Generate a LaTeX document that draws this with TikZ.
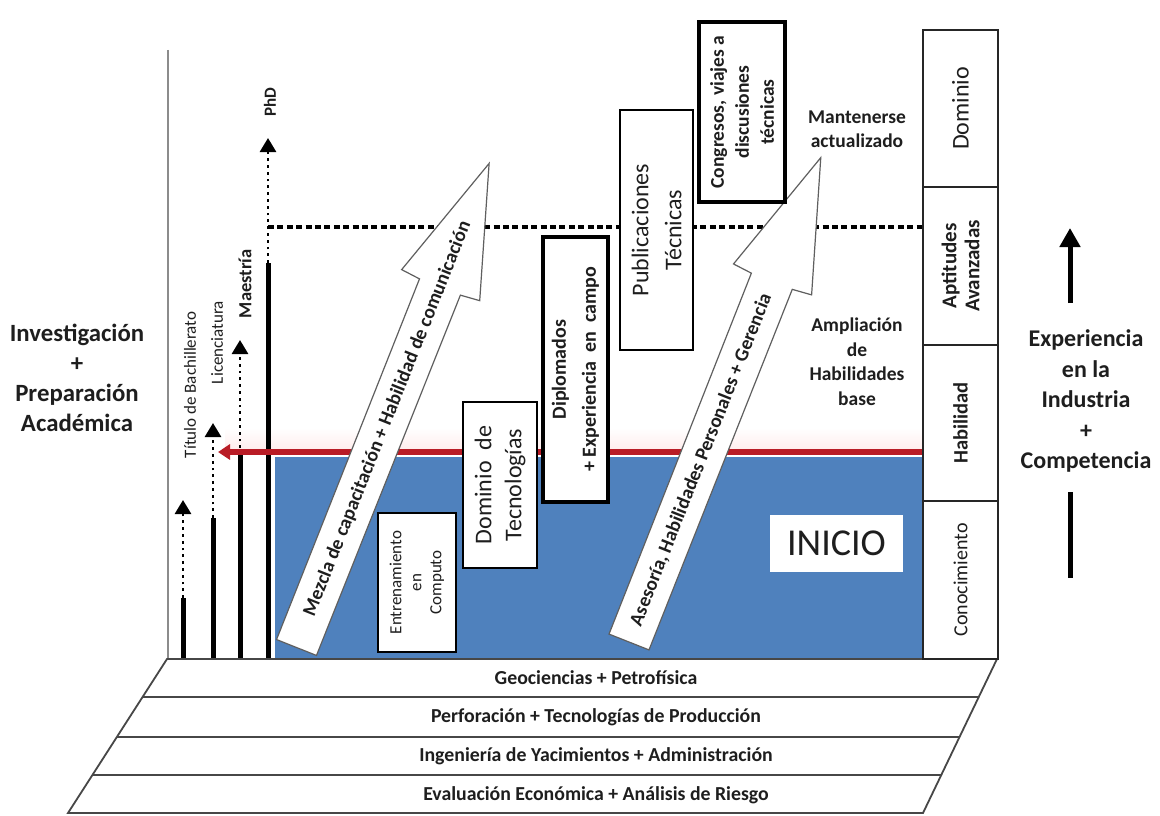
\documentclass[tikz,border=0pt]{standalone}
\usepackage{fontspec}
\setmainfont{Carlito}
\usetikzlibrary{arrows.meta}
\definecolor{inicioblue}{RGB}{79,129,189}
\definecolor{redline}{RGB}{185,28,38}
\definecolor{ink}{RGB}{30,30,30}
\definecolor{outline}{RGB}{95,95,95}
\newcommand{\growtharrow}{%
  \path[arrowshape] (0,-21.5) -- (388,-22) -- (390,-42) -- (521,0)
    -- (390,42) -- (388,22) -- (0,21.5) -- cycle;}
\begin{document}
\begin{tikzpicture}[x=1pt,y=-1pt,
  every node/.style={text=ink, inner sep=0pt, outer sep=0pt},
  solidbar/.style={line width=5pt, black},
  dotbar/.style={line width=2.8pt, black, dash pattern=on 2.8pt off 4pt,
                 -{Triangle[width=16pt,length=14pt]}},
  levelline/.style={line width=4pt, black, dash pattern=on 6pt off 3.4pt},
  baseline/.style={draw=black!72, line width=1.8pt},
  rowtext/.style={font=\fontsize{19.8}{22}\selectfont\bfseries},
  sidetext/.style={font=\fontsize{24}{30.5}\selectfont\bfseries, align=center},
  midtext/.style={font=\fontsize{19.5}{24.5}\selectfont\bfseries, align=center},
  ledger/.style={draw=black!85, line width=1.5pt, fill=white, rotate=90,
                 minimum width=#1, minimum height=75pt, align=center},
  tbox/.style={draw=black, fill=white, rotate=90, align=center},
  arrowshape/.style={draw=outline, line width=1.2pt, fill=white, line join=miter},
  arrowtext/.style={font=\fontsize{19.5}{21}\selectfont\bfseries},
  barlabel/.style={rotate=90, anchor=west, font=\fontsize{17}{20}\selectfont}
]
\useasboundingbox (0,0) rectangle (1160,816);
\fill[white] (0,0) rectangle (1160,816);

% starting level: blue field with a soft glow above the red line
\shade[top color=white, bottom color=red!7] (225,428) rectangle (923,449);
\fill[inicioblue] (275,457) rectangle (923,659);

% left wall
\coordinate (wallT) at (168,50);
\coordinate (wallB) at (168,659);
\draw[line width=2pt, black!45] (wallT) -- (wallB);

% academic ladder: solid part, dotted part, arrow tip
\coordinate (b1base) at (183,659); \coordinate (b1mid) at (183,598); \coordinate (b1tip) at (183,500);
\coordinate (b2base) at (213,659); \coordinate (b2mid) at (213,518); \coordinate (b2tip) at (213,423);
\coordinate (b3base) at (240,659); \coordinate (b3mid) at (240,455); \coordinate (b3tip) at (240,340);
\coordinate (b4base) at (268,659); \coordinate (b4mid) at (268,263); \coordinate (b4tip) at (268,138);
\foreach \i in {1,2,3,4}{
  \draw[solidbar] (b\i base) -- (b\i mid);
  \draw[dotbar] (b\i mid) -- (b\i tip);
}
\node[barlabel] (lbach) at (190,458) {Título de Bachillerato};
\node[barlabel] (llic) at (217,384) {Licenciatura};
\node[barlabel, font=\fontsize{18.5}{20}\selectfont\bfseries] (lmae) at (245,318) {Maestría};
\node[barlabel, font=\fontsize{17}{20}\selectfont\bfseries] (lphd) at (270,117) {PhD};

% advanced level line
\coordinate (lvlL) at (268,227);
\coordinate (lvlR) at (923,227);
\draw[levelline] (lvlL) -- (lvlR);

% red arrow at the top of the starting level
\coordinate (redR) at (923,452);
\coordinate (redL) at (218,452);
\draw[redline, line width=6pt, -{Triangle[width=15pt,length=12pt]}] (redR) -- (redL);

% foundation layers
\path[baseline, fill=white] (167,659) -- (997,659) -- (923,813) -- (68,813) -- cycle;
\draw[baseline] (142.6,697) -- (978.7,697);
\draw[baseline] (116.9,737) -- (959.5,737);
\draw[baseline] (92.4,775) -- (941.3,775);
\node[rowtext] (geo) at (596,678) {Geociencias + Petrofísica};
\node[rowtext] (perf) at (596,717) {Perforación + Tecnologías de Producción};
\node[rowtext] (ing) at (596,756) {Ingeniería de Yacimientos + Administración};
\node[rowtext] (eva) at (596,795) {Evaluación Económica + Análisis de Riesgo};

% competence scale
\node[ledger=157, font=\fontsize{24}{26}\selectfont] (ldom) at (960.5,108.5) {Dominio};
\node[ledger=158, font=\fontsize{21}{23}\selectfont\bfseries] (lapt) at (960.5,266) {Aptitudes\\Avanzadas};
\node[ledger=156, font=\fontsize{20.5}{22}\selectfont\bfseries] (lhab) at (960.5,423) {Habilidad};
\node[ledger=158, font=\fontsize{20}{22}\selectfont] (lcon) at (960.5,580) {Conocimiento};
\draw[line width=2.6pt, black!85] (998,50) -- (998,659);

% broad growth arrows
\begin{scope}[shift={(296.5,647.5)}, rotate=68.3]
  \growtharrow
  \node[arrowtext, rotate=68.3] (amix) at (246,0) {Mezcla de capacitación + Habilidad de comunicación};
\end{scope}
\begin{scope}[shift={(629,642)}, rotate=68.4]
  \growtharrow
  \node[arrowtext, rotate=68.4] (aase) at (196,0) {Asesoría, Habilidades Personales + Gerencia};
\end{scope}

% milestone boxes
\node[tbox, line width=2.8pt, minimum width=139pt, minimum height=78pt,
      font=\fontsize{17}{20}\selectfont] (bent) at (417,582.5) {Entrenamiento\\en\\Computo};
\node[tbox, line width=2.6pt, minimum width=166pt, minimum height=74pt,
      font=\fontsize{24}{30}\selectfont] (bdom) at (500,485) {Dominio~~de\\Tecnologías};
\node[tbox, line width=4.5pt, minimum width=265pt, minimum height=65pt,
      font=\fontsize{20}{30}\selectfont\bfseries] (bdip) at (575.5,369.5) {Diplomados\\+ Experiencia~~en~~campo};
\node[tbox, line width=2.8pt, minimum width=240pt, minimum height=73pt,
      font=\fontsize{24}{33}\selectfont] (bpub) at (656.5,230) {Publicaciones\\Técnicas};
\node[tbox, line width=3.2pt, minimum width=180pt, minimum height=86pt,
      font=\fontsize{19.5}{25}\selectfont\bfseries] (bcon) at (742,112) {Congresos, viajes a\\discusiones\\técnicas};

% free labels
\node[midtext] (mant) at (857,129) {Mantenerse\\actualizado};
\node[midtext] (ampl) at (857,361.5) {Ampliación\\de\\Habilidades\\base};
\node[fill=white, minimum width=133pt, minimum height=57pt,
      font=\fontsize{38}{40}\selectfont] (inicio) at (836.5,543.5) {INICIO};

% side captions
\node[sidetext, font=\fontsize{24.8}{30}\selectfont\bfseries] (lefttxt) at (77,378) {Investigación\\+\\Preparación\\Académica};
\node[sidetext] (righttxt) at (1086,401) {Experiencia\\en la\\Industria\\+\\Competencia};
\coordinate (upB) at (1070,303);
\coordinate (upT) at (1070,228);
\draw[line width=5pt, -{Triangle[width=20pt,length=19pt]}] (upB) -- (upT);
\coordinate (dnT) at (1070,492);
\coordinate (dnB) at (1070,578);
\draw[line width=5pt] (dnT) -- (dnB);
\end{tikzpicture}
\end{document}
